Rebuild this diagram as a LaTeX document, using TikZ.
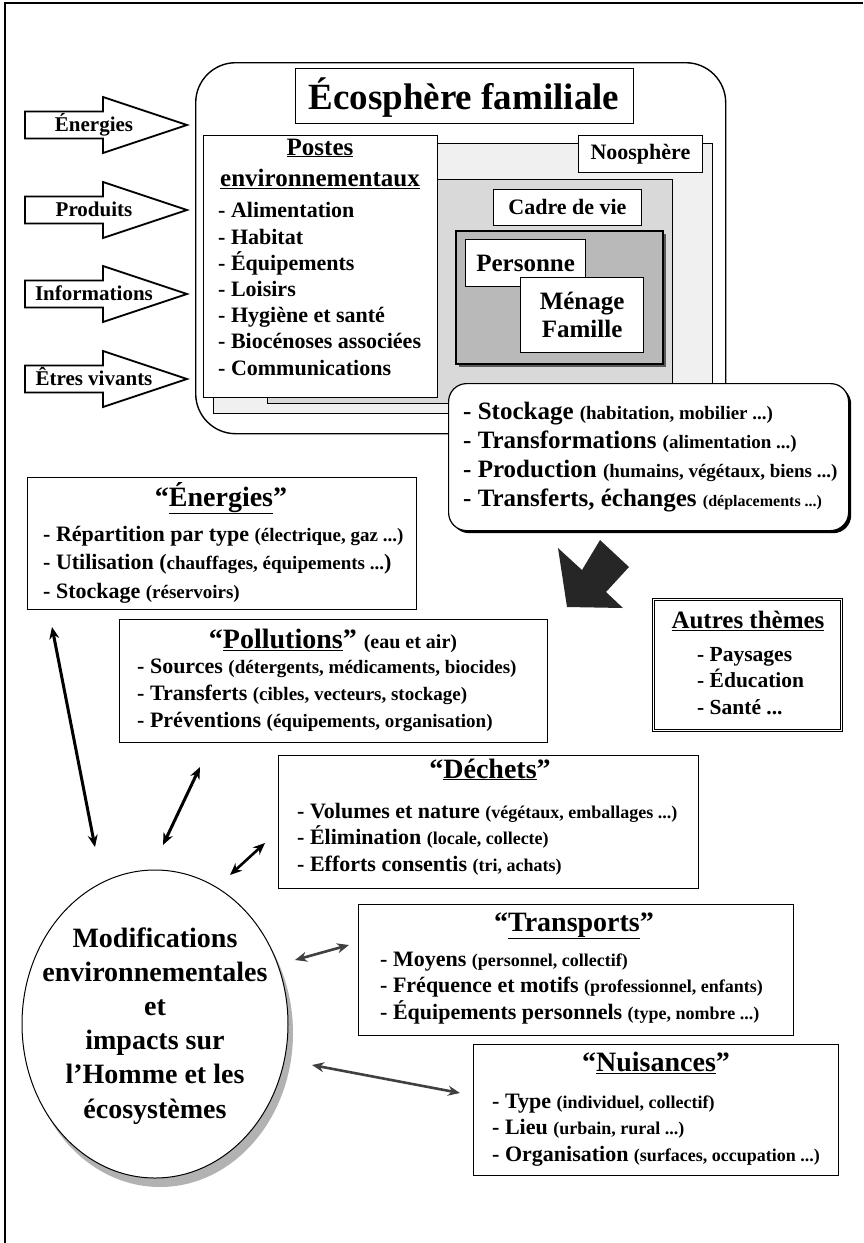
\documentclass[tikz,border=0pt]{standalone}
\usepackage{fontspec}
\setmainfont{Liberation Serif}
\usetikzlibrary{shapes.geometric,arrows.meta}
\newcommand{\myfz}[2]{\fontsize{#1}{#2}\selectfont}
\newcommand{\smtxt}[2][18]{{\myfz{#1}{#1}#2}}
\begin{document}
\begin{tikzpicture}[x=1pt,y=-1pt,
  every node/.style={inner sep=0pt},
  layer/.style={draw, line width=0.8pt, anchor=north west},
  box/.style={draw, line width=1.1pt, fill=white, anchor=north west},
  lbl/.style={draw, line width=0.9pt, fill=white, anchor=north west, font=\bfseries\myfz{22}{22}},
  ttl/.style={anchor=base, font=\bfseries\myfz{28}{28}},
  lst/.style={anchor=base west, align=left},
  dbl/.style={{Stealth[length=12pt,width=10pt]}-{Stealth[length=12pt,width=10pt]}, line width=3pt},
  inarrow/.style={draw, line width=1.8pt, fill=white, line join=miter},
]
\useasboundingbox (0,0) rectangle (863,1243);
% frame
\draw[line width=1.2pt] (5,1243) -- (5,3) -- (863,3);

% container
\node[draw, line width=1.4pt, rounded corners=40pt, anchor=north west,
      minimum width=530pt, minimum height=371pt] (eco) at (195,62) {};
\node[lbl, minimum width=338pt, minimum height=55pt] (ecobox) at (295,68) {};
\node[anchor=base, font=\bfseries\myfz{37}{37}] (ecotitle) at (464,109) {Écosphère familiale};

% layers
\node[layer, fill=gray!12, minimum width=499pt, minimum height=270pt] (noo) at (213,143) {};
\node[lbl, minimum width=124pt, minimum height=37pt] (noolbl) at (578,135) {Noosphère};
\node[layer, fill=gray!30, minimum width=405pt, minimum height=224pt] (cadre) at (267,179) {};
\node[lbl, minimum width=148pt, minimum height=36pt] (cadrelbl) at (493,189) {Cadre de vie};
\node[fill=black!65, anchor=north west, minimum width=207pt, minimum height=133pt] (darkshadow) at (459,234) {};
\node[draw, line width=1.5pt, fill=gray!55, anchor=north west, minimum width=207pt, minimum height=133pt] (dark) at (455,230) {};
\node[lbl, line width=1.2pt, font=\bfseries\myfz{25}{25}, minimum width=120pt, minimum height=47pt] (pers) at (465,239) {Personne};
\node[lbl, line width=1.2pt, font=\bfseries\myfz{25}{28}, align=center, minimum width=123pt, minimum height=75pt] (menage) at (520,277) {Ménage\\Famille};

% postes (base anchor = baseline of the last line)
\node[box, line width=1.2pt, minimum width=234pt, minimum height=262pt] (postes) at (203,135) {};
\node[anchor=base, align=center, font=\bfseries\myfz{25}{31}] (postesh) at (320,186) {\underline{Postes}\\\underline{environnementaux}};
\node[lst, font=\bfseries\myfz{22}{26.2}] (postesl) at (218,375) {- Alimentation\\- Habitat\\- Équipements\\- Loisirs\\- Hygiène et santé\\- Biocénoses associées\\- Communications};

% inflow arrows
\foreach \c/\t/\n in {125/Énergies/aen, 210/Produits/apr, 294/Informations/ain, 379/Êtres vivants/aet}{
  \draw[inarrow] (25,\c-13.5) -- (103,\c-13.5) -- (103,\c-28) -- (187,\c) -- (103,\c+28) -- (103,\c+13.5) -- (25,\c+13.5) -- cycle;
  \node[anchor=base, font=\bfseries\myfz{21}{21}] (\n) at (94,\c+6) {\t};
}

% stockage box
\node[fill=black, rounded corners=18pt, anchor=north west, minimum width=400pt, minimum height=147pt] (stockshadow) at (451,386) {};
\node[box, line width=1.2pt, rounded corners=18pt, minimum width=400pt, minimum height=147pt] (stock) at (448,383) {};
\node[lst, font=\bfseries\myfz{25}{28.7}] (stockl) at (463,506) {- Stockage \smtxt[19]{(habitation, mobilier ...)}\\- Transformations \smtxt[19]{(alimentation ...)}\\- Production \smtxt[19]{(humains, végétaux, biens ...)}\\- Transferts, échanges \smtxt[16]{(déplacements ...)}};

% big arrow
\fill[black!85] (567,607) -- (558,548) -- (582,570) -- (600,540) -- (629,567) -- (606,592) -- (623,608) -- cycle;

% autres themes
\node[draw, line width=0.8pt, double, double distance=1.6pt, fill=white, anchor=north west, minimum width=188pt, minimum height=131pt] (autres) at (653,599) {};
\node[anchor=base, font=\bfseries\myfz{25}{25}] (autrest) at (748,628) {\underline{Autres thèmes}};
\node[lst, font=\bfseries\myfz{21.5}{26.5}] (autresl) at (697,714) {- Paysages\\- Éducation\\- Santé ...};

% energies
\node[box, minimum width=389pt, minimum height=132pt] (ener) at (27,477) {};
\node[ttl] (enert) at (221,506) {“\underline{Énergies}”};
\node[lst, font=\bfseries\myfz{22}{28.5}] (enerl) at (43,598) {- Répartition par type \smtxt[19]{(électrique, gaz ...)}\\- Utilisation (\smtxt[19]{chauffages, équipements ...})\\- Stockage \smtxt[19]{(réservoirs)}};

% pollutions
\node[box, minimum width=428pt, minimum height=123pt] (poll) at (119,619) {};
\node[ttl] (pollt) at (333,648) {“\underline{Pollutions}” \smtxt[20]{(eau et air)}};
\node[lst, font=\bfseries\myfz{22}{27}] (polll) at (137,727) {- Sources \smtxt[19]{(détergents, médicaments, biocides)}\\- Transferts \smtxt[19]{(cibles, vecteurs, stockage)}\\- Préventions \smtxt[19]{(équipements, organisation)}};

% dechets
\node[box, minimum width=420pt, minimum height=133pt] (dech) at (278,755) {};
\node[ttl] (decht) at (490,778) {“\underline{Déchets}”};
\node[lst, font=\bfseries\myfz{22}{26.3}] (dechl) at (297,871) {- Volumes et nature \smtxt{(végétaux, emballages ...)}\\- Élimination \smtxt{(locale, collecte)}\\- Efforts consentis \smtxt{(tri, achats)}};

% transports
\node[box, minimum width=435pt, minimum height=131pt] (trans) at (358,904) {};
\node[ttl] (transt) at (574,931) {“\underline{Transports}”};
\node[lst, font=\bfseries\myfz{22}{26.5}] (transl) at (380,1019) {- Moyens \smtxt{(personnel, collectif)}\\- Fréquence et motifs \smtxt{(professionnel, enfants)}\\- Équipements personnels \smtxt{(type, nombre ...)}};

% nuisances
\node[box, minimum width=365pt, minimum height=131pt] (nuis) at (473,1044) {};
\node[ttl] (nuist) at (656,1071) {“\underline{Nuisances}”};
\node[lst, font=\bfseries\myfz{22}{26.5}] (nuisl) at (492,1161) {- Type \smtxt{(individuel, collectif)}\\- Lieu \smtxt{(urbain, rural ...)}\\- Organisation \smtxt{(surfaces, occupation ...)}};

% ellipse
\node[ellipse, fill=gray!60, minimum width=266pt, minimum height=308pt] (modshadow) at (160,1033) {};
\node[ellipse, draw, line width=1pt, fill=white, minimum width=266pt, minimum height=308pt] (modif) at (155,1024) {};
\node[anchor=base, align=center, font=\bfseries\myfz{28}{34.2}] (modift) at (155,1118) {Modifications\\environnementales\\et\\impacts sur\\l’Homme et les\\écosystèmes};

% connectors
\coordinate (e1) at (52,627);  \coordinate (e2) at (95,847);
\coordinate (p1) at (200,767); \coordinate (p2) at (163,845);
\coordinate (d1) at (265,843); \coordinate (d2) at (230,875);
\coordinate (t1) at (349,945); \coordinate (t2) at (295,960);
\coordinate (n1) at (460,1093); \coordinate (n2) at (312,1065);
\draw[dbl] (e1) -- (e2);
\draw[dbl] (p1) -- (p2);
\draw[dbl, line width=2.6pt] (d1) -- (d2);
\draw[dbl, line width=2.6pt, black!75] (t1) -- (t2);
\draw[dbl, line width=2.6pt, black!75] (n1) -- (n2);
\end{tikzpicture}
\end{document}
